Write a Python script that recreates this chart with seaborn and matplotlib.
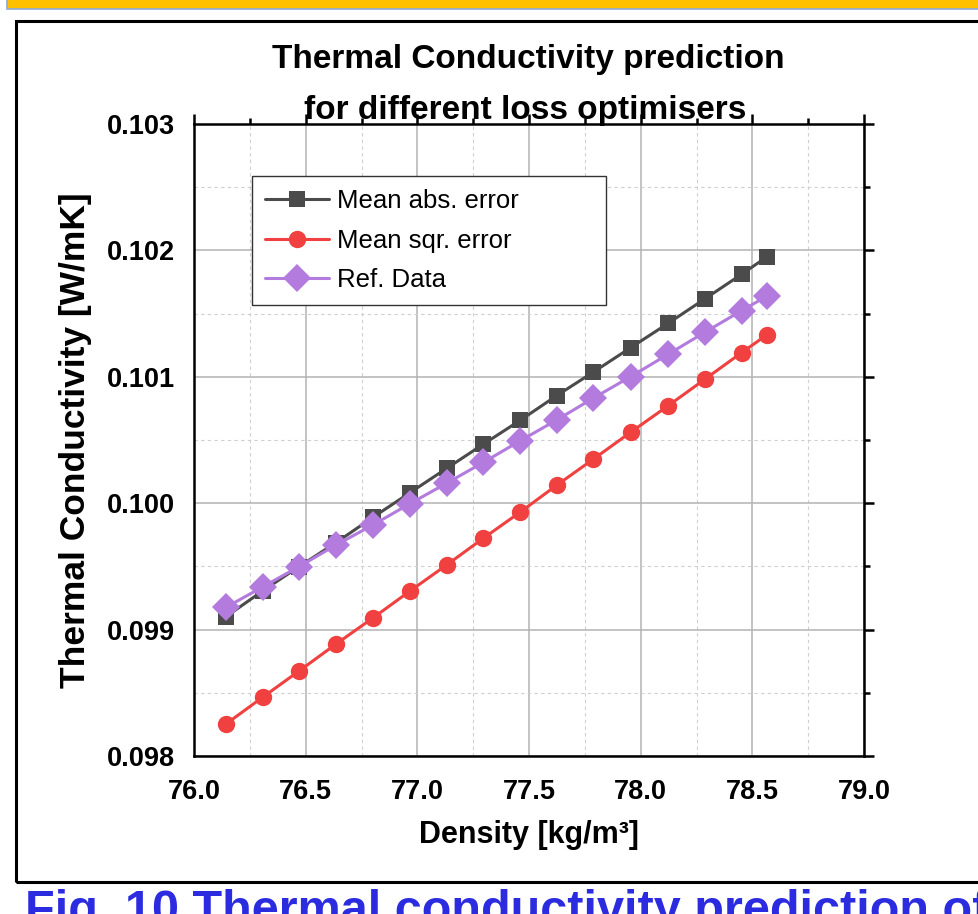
import seaborn as sns
import matplotlib.pyplot as plt
import pandas as pd
import numpy as np
from matplotlib.ticker import MultipleLocator, FormatStrFormatter
from matplotlib.patches import Rectangle

# values
density = [76.143, 76.309, 76.470, 76.636, 76.801, 76.967, 77.131, 77.295,
           77.461, 77.624, 77.787, 77.955, 78.123, 78.287, 78.452, 78.566]
mae = [0.099102, 0.099308, 0.099498, 0.099688, 0.099888, 0.100083, 0.100275, 0.100466,
       0.100656, 0.100851, 0.101036, 0.101230, 0.101423, 0.101616, 0.101811, 0.101950]
mse = [0.098253, 0.098467, 0.098672, 0.098886, 0.099092, 0.099305, 0.099511, 0.099722,
       0.099930, 0.100142, 0.100347, 0.100561, 0.100771, 0.100980, 0.101191, 0.101333]
ref = [0.099176, 0.099339, 0.099498, 0.099669, 0.099828, 0.099996, 0.100158, 0.100322,
       0.100494, 0.100658, 0.100830, 0.101001, 0.101178, 0.101352, 0.101523, 0.101639]
method = ["Mean abs. error", "Mean sqr. error", "Ref. Data"]

df = pd.DataFrame()
df['density'] = density * 3
df['k'] = np.concatenate([mae, mse, ref])
df['method'] = np.repeat(method, len(density))

palette = {
    "Mean abs. error": "#4b4b4b",
    "Mean sqr. error": "#f0403f",
    "Ref. Data": "#b27bdd",
}
markers = {"Mean abs. error": "s", "Mean sqr. error": "o", "Ref. Data": "D"}

sns.set_theme(style="white")
plt.rcParams['font.family'] = ['Liberation Sans', 'DejaVu Sans']
plt.rcParams['font.weight'] = 'bold'
plt.rcParams['text.color'] = 'black'

fig = plt.figure(figsize=(9.79, 9.14), dpi=100)
ax = fig.add_axes([0.1982, 0.1729, 0.6844, 0.6915])

sns.lineplot(
    data=df, x="density", y="k",
    hue="method", style="method",
    markers=markers, dashes=False, palette=palette,
    estimator=None, sort=False, legend=False,
    linewidth=2.2, markersize=11.5, markeredgewidth=0,
    ax=ax,
)
# marker sizes per series
ax.lines[1].set_markersize(12.5)
ax.lines[2].set_markersize(14.5)

ax.set_xlim(76.0, 79.0)
ax.set_ylim(0.098, 0.103)
ax.xaxis.set_major_locator(MultipleLocator(0.5))
ax.xaxis.set_minor_locator(MultipleLocator(0.25))
ax.yaxis.set_major_locator(MultipleLocator(0.001))
ax.yaxis.set_minor_locator(MultipleLocator(0.0005))
ax.xaxis.set_major_formatter(FormatStrFormatter('%.1f'))
ax.yaxis.set_major_formatter(FormatStrFormatter('%.3f'))

ax.set_axisbelow(True)
ax.grid(which='major', color='#b3b3b3', linewidth=1.1, linestyle='-')
ax.grid(which='minor', color='#cfcfcf', linewidth=0.8, linestyle=(0, (3, 3)))

ax.tick_params(which='both', direction='out', top=True, right=True,
               width=1.8, color='black', labelsize=19.5, labelcolor='black')
ax.tick_params(which='major', length=7.5)
ax.tick_params(which='minor', length=4)
ax.tick_params(axis='x', pad=9)
ax.tick_params(axis='y', pad=6.5)
for s in ax.spines.values():
    s.set_linewidth(1.8)
    s.set_color('black')

ax.set_xlabel("Density [kg/m³]", fontsize=22, fontweight='bold', color='black')
ax.set_ylabel("Thermal Conductivity [W/mK]", fontsize=25.5, fontweight='bold', color='black')
ax.xaxis.set_label_coords(0.5, -0.101)
ax.yaxis.set_label_coords(-0.152, 0.5)

ax.legend(
    ax.lines[:3], method,
    loc="upper left",
    bbox_to_anchor=(0.0866, 0.0, 0.528, 0.918),
    mode="expand",
    borderaxespad=0,
    frameon=True, fancybox=False, framealpha=1,
    edgecolor='#333333',
    prop={'size': 18.5, 'weight': 'normal'},
    handlelength=2.5, handletextpad=0.3,
    labelspacing=0.62, borderpad=0.5,
)
ax.get_legend().get_frame().set_linewidth(1.0)

# two-line title
fig.text(0.5393, 1 - 68 / 914, "Thermal Conductivity prediction",
         ha='center', va='baseline', fontsize=24, fontweight='bold', color='black')
fig.text(0.5363, 1 - 119 / 914, "for different loss optimisers",
         ha='center', va='baseline', fontsize=24, fontweight='bold', color='black')

# page decorations around the figure
fig.patches.append(Rectangle((7 / 979, 1 - 9 / 914), 1.1, 0.05,
                             transform=fig.transFigure, facecolor='#ffc000',
                             edgecolor='#8eaadb', linewidth=1.2))
fig.patches.append(Rectangle((16 / 979, 1 - 882 / 914), 1.1, (882 - 21) / 914,
                             transform=fig.transFigure, fill=False,
                             edgecolor='black', linewidth=2.2))
# caption of the page, cut by the bottom edge as in the source
fig.text(25 / 979, 1 - 924 / 914, "Fig. 10 Thermal conductivity prediction of",
         ha='left', va='baseline', fontsize=35, fontweight='bold', color='#2b2be0')

fig.savefig("out.png", dpi=100)
